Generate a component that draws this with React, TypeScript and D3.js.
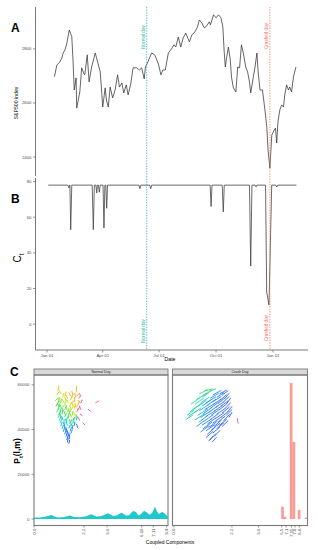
import React from "react";
import * as d3 from "d3";

// ---------- Panel A : S&P500 index (day offsets from 2018-01-01) ----------
const spDays = [12,16,20,24,26,29,32,36,40,42,44,47,48,53,56,59,61,65,68,72,78,80,86,90,94,96,99,102,106,110,114,117,121,124,128,131,135,139,145,149,153,157,159,163,169,174,180,184,187,191,196,201,205,208,212,216,220,224,230,234,239,243,246,250,254,258,262,264,269,273,277,281,284,286,288,290,293,296,298,301,305,308,311,314,317,321,324,327,329,333,336,339,341,344,348,352,355,357,360,363,367,369,371,373,376,379,382,384,387,390,392,395,398,402];
const spValues = [2697,2741,2749,2766,2784,2796,2821,2870,2846,2759,2648,2693,2581,2641,2730,2711,2704,2778,2678,2733,2785,2767,2715,2585,2656,2611,2585,2659,2619,2648,2704,2659,2674,2637,2667,2630,2667,2730,2730,2722,2730,2689,2733,2752,2785,2778,2744,2704,2722,2722,2785,2800,2815,2807,2844,2807,2841,2859,2826,2852,2863,2881,2907,2896,2878,2885,2900,2889,2926,2915,2926,2915,2881,2796,2733,2767,2807,2759,2696,2656,2641,2733,2730,2815,2785,2733,2715,2678,2637,2693,2733,2785,2715,2648,2648,2574,2511,2426,2359,2481,2500,2507,2452,2530,2574,2593,2585,2630,2667,2648,2659,2641,2696,2733];

// ---------- Panel B : C_t ----------
const ctDays = [2,33.5,35.5,36.5,37,38.3,40,73,74.8,76.5,79,80.3,81.5,83,84.5,86,90.5,92,93.5,95,96.4,97.8,148.5,150,151.5,166,167.5,169,263.5,265,266.5,283,284.7,286.3,327,329,331,336,337.5,339,353,354.8,358.5,362.9,369.5,371,372.5,403];
const ctValues = [78,78,76.5,78,78,53,78,78,53,78,78,73.6,78,78,74,78,78,54,78,78,65,78,78,76,78,78,76,78,78,66,78,78,63,78,78,32.6,78,78,77,78,78,18,10.7,78,78,77,78,78];

const dateTicks = [0, 90, 181, 273, 365];
const dateTickLabels = ["Jan 01", "Apr 01", "Jul 01", "Oct 01", "Jan 01"];
const spTicks = [2400, 2600, 2800];
const ctTicks = [0, 20, 40, 60, 80];
const normalDay = 161;
const crashDay = 360;

// ---------- Panel C ----------
const pTicks = [0, 20000, 40000, 60000];
const normalTickLabels = ["0-0", "2-2", "3-6", "6-10", "7-11", "9-9"];
const normalTickPos = [0, 37.3, 54.5, 80.4, 89, 99];
const crashTickLabels = ["0-0", "2-2", "3-6", "6-5", "7-1", "7-15", "7-8", "8-8"];
const crashTickPos = [1.1, 44, 63.7, 80.9, 84.1, 88.1, 90.7, 93.9];

// distribution area, normal day
const normalAreaX = [0,4.5,9,13.1,15.7,17.9,22.4,26.9,29.9,34.3,38.8,42.9,46.3,50,55.2,59,61.9,65.3,68.7,70.9,73.9,76.1,78,79.9,82.1,84.3,86.2,88.1,90.3,91.8,93.3,95.9,97.8,100];
const normalAreaY = [670,670,1100,1800,1000,670,900,1560,900,760,1200,2100,1100,1200,2550,1340,1650,2770,1560,1650,3580,3130,1560,2240,3670,2900,1880,2680,5500,3350,2240,3220,2240,1100];

// distribution bars, crash day
const crashBarX = [81.5, 83.3, 87.9, 89.9, 93.8, 98.9];
const crashBarY = [5500, 1000, 60900, 34500, 4000, 600];

// segments [x, P, dx, dP, colour value]
const normalSegs = [
  [17.8,57300,0.8,2300,0.72],[31.5,56800,0.3,2500,0.72],[46,52000,2.5,800,0.88],[40.5,49000,1.5,-700,1.0],
  [36.5,43000,1.5,-900,0.98],[32,41300,1.2,-800,0.96],
  [17,55500,1.5,1200,0.5],[20,56000,-1,1500,0.6],[23,55000,1,1800,0.7],[26,56500,1.2,-1300,0.72],[29,55500,-0.8,1600,0.78],[32,55000,1.5,1000,0.85],[34,56000,1,-1200,0.9],
  [18,54200,1,-1500,0.55],[21.5,54500,0.8,1600,0.62],[25,54000,-1.2,1400,0.68],[28,54300,1,1700,0.74],[31,54600,-0.6,1500,0.8],[33.5,54000,1.2,1300,0.88],
  [16,53000,1.8,900,0.45],[18.5,52500,0.6,1800,0.5],[21,53500,1.4,-1400,0.55],[24,52800,-1,1700,0.62],[27,53200,1.5,1300,0.7],[30,52500,0.5,1900,0.75],[33,53000,1.6,-1000,0.82],[35,52000,1,1200,0.95],
  [17.5,51700,1.2,-1400,0.45],[20,51900,0.5,1700,0.5],[22.8,51500,1.3,1400,0.55],[25.5,51800,-0.9,1600,0.6],[28,51400,1.2,1500,0.66],[30.5,51900,0.6,-1600,0.72],[33,51500,1.2,1300,0.8],
  [16.5,50500,1.2,1500,0.4],[19,51000,-0.8,1800,0.45],[21.5,50000,1.5,1200,0.5],[24,50800,0.4,-1900,0.55],[26.5,50200,1.2,1600,0.6],[29,50700,-1,1400,0.68],[31.5,50000,1.4,1100,0.75],[34,50500,0.8,-1500,0.97],
  [18,49200,1,1600,0.4],[20.5,49500,-1,1500,0.42],[23,49000,1.2,1700,0.47],[25.5,49400,0.6,-1600,0.52],[28,49000,1.3,1400,0.57],[30.5,49300,-0.7,1700,0.63],[33,48900,1,1400,0.9],
  [17,48000,1.5,1300,0.35],[19.5,47500,0.6,1800,0.4],[22,48300,-1.2,1500,0.45],[24.5,47800,1.4,1400,0.5],[27,48200,0.3,1900,0.55],[29.5,47600,1.3,-1400,0.6],[32,48000,1,1500,0.92],[34.5,47000,1.5,-800,0.98],
  [18.5,46700,1.2,1500,0.33],[21,47000,0.5,1800,0.37],[23.5,46500,-1,1500,0.4],[26,46900,1.1,1600,0.45],[28.5,46400,0.5,1700,0.5],[31,46800,1.2,-1300,0.55],
  [18,45500,1.4,1600,0.3],[20.5,45000,-0.8,1700,0.35],[23,45800,1.3,1300,0.38],[25.5,45200,0.5,1900,0.42],[28,45600,-1.1,1500,0.48],[30.5,45000,1.2,1400,0.52],[33,45400,1,-1300,0.94],
  [19,44200,1,1600,0.25],[21.5,44500,-0.8,1500,0.28],[24,44000,1.1,1700,0.32],[26.5,44400,0.5,-1600,0.36],[29,43900,1.2,1500,0.4],[31.5,44300,0.8,1400,0.15],
  [19.5,43000,1.2,1500,0.22],[22,42600,0.6,1800,0.25],[24.5,43300,-1,1400,0.28],[27,42800,1.3,1600,0.3],[29.5,43200,0.4,1800,0.35],[31.5,42500,1.1,-1200,0.12],
  [20,41700,1,1600,0.18],[22.5,41400,0.6,1800,0.2],[25,41900,-0.9,1500,0.22],[27.5,41500,1.1,1600,0.2],[30,41800,0.5,1500,0.1],
  [21,40500,1,1600,0.15],[23.5,40000,-0.7,1800,0.12],[26,40700,1.2,1400,0.18],[28.5,40200,0.5,1700,0.1],
  [22,39200,0.8,1700,0.1],[24.5,39000,-0.5,1800,0.08],[27,39400,0.9,1600,0.12],
  [23,38000,0.8,1700,0.08],[25.5,37500,-0.6,1900,0.05],[27.5,38300,1,1500,0.1],
  [24,37000,0.7,1700,0.05],[26.5,36700,-0.4,1800,0.04],
  [24.5,35500,0.9,1800,0.03],[26.5,36000,-0.5,1600,0.02],
  [25,34500,0.5,1600,0.02],[26,33800,0.6,1500,0],
];
const crashSegs = [
  [12,46000,6,2400,0.3],[15,49000,7,2800,0.28],[14,51500,6,2600,0.32],[18,53500,7,2500,0.3],[20,56000,6,1800,0.34],[24,57500,6,600,0.38],[16,47500,5,2200,0.26],[22,54500,5,2000,0.27],[10,44500,5,2000,0.25],[19,50500,6,2600,0.22],
  [13,48000,6,2500,0.28],[17,51500,6,2500,0.3],[21,52000,6,2400,0.28],[23,55500,6,2000,0.33],[27,57000,5,1200,0.35],[11,46500,5,2200,0.3],
  [30,55500,6,2000,0.1],[35,56000,5,1600,0.05],
  [28,54000,6,2200,0.1],[33,54500,5,2000,0.06],[37,55500,4,1800,0.03],
  [25,52000,7,2600,0.12],[30,52500,6,2300,0.08],[35,53000,5,2500,0.03],[39,54000,3,2300,0.02],
  [22,50500,6,2600,0.12],[26,51000,6,2500,0.08],[30,51200,6,2400,0.05],[34,51800,5,2400,0.03],[38,52500,4,2300,0.01],
  [20,48500,7,2700,0.15],[24,49000,7,2500,0.1],[28,49500,6,2600,0.06],[32,50000,6,2400,0.04],[36,50500,5,2300,0.02],[40,51500,3,2500,0],
  [19,46500,7,2700,0.14],[23,47200,6,2600,0.1],[27,47800,6,2500,0.06],[31,48300,6,2500,0.04],[35,49000,5,2400,0.02],[39,49500,4,2400,0],
  [17,44500,7,2600,0.18],[21,45500,7,2700,0.12],[25,46000,7,2500,0.08],[29,46500,6,2600,0.05],[33,47000,6,2400,0.03],[37,47500,5,2500,0.01],[41,48000,3,2300,0],
  [20,43500,6,2700,0.1],[24,44000,6,2600,0.07],[28,44500,6,2600,0.04],[32,45000,6,2500,0.02],[36,45500,5,2500,0.01],[40,46500,4,2400,0],
  [18,41500,6,2600,0.12],[22,42000,7,2800,0.08],[26,42500,6,2700,0.05],[30,43000,6,2600,0.03],[34,43500,5,2500,0.02],[38,44000,4,2600,0],[42,45500,2,2200,0],
  [23,40500,6,2700,0.06],[27,41000,6,2600,0.04],[31,41500,5,2600,0.02],[35,42000,5,2500,0],
  [21,39000,6,2700,0.08],[25,39500,6,2600,0.05],[29,40000,6,2700,0.03],[33,40500,5,2500,0.01],[37,41500,4,2400,0],
  [26,38000,5,2700,0.04],[30,38500,5,2600,0.02],
  [25,36500,5,2700,0.04],[28,35500,4,2600,0.02],[31,37000,4,2500,0],
  [27,35000,3,2000,0.02],[29.5,34500,3,2000,0],
  [48,45000,0.6,-2200,0.98],
];

const FONT = "Liberation Sans, Arial, sans-serif";
const NORMAL_COL = "#1BB3A8";
const CRASH_COL = "#F8695C";

export default function App() {
  const t0 = new Date(2018, 0, 1).getTime();
  const toDate = (d: number) => new Date(t0 + d * 864e5);
  const x = d3.scaleTime().domain([toDate(0), toDate(365)]).range([47, 273]);
  const yA = d3.scaleLinear().domain([2330, 2955]).range([176, 7]);
  const yB = d3.scaleLinear().domain([-14.5, 82]).range([350, 178]);

  const lineA = d3.line<number>().x((_, i) => x(toDate(spDays[i]))).y((v) => yA(v));
  const lineB = d3.line<number>().x((_, i) => x(toDate(ctDays[i]))).y((v) => yB(v));

  const axX = 35.5;
  const nx = x(toDate(normalDay));
  const cx = x(toDate(crashDay));

  // Panel C
  const pTop = 375, pBot = 525.5;
  const yC = d3.scaleLinear().domain([-2900, 64400]).range([pBot, pTop]);
  const xL = d3.scaleLinear().domain([0, 100]).range([34, 168]);
  const xR = d3.scaleLinear().domain([0, 100]).range([172.5, 307.5]);
  const segCol = d3.scaleLinear<string>()
    .domain([0, 0.2, 0.4, 0.6, 0.8, 1])
    .range(["#2C5BFF", "#16C6E8", "#3EE35A", "#D5E81E", "#FFA51E", "#E24BF0"]);
  const areaL = d3.area<number>().x((_, i) => xL(normalAreaX[i])).y0(yC(0)).y1((v) => yC(v));

  const tickText = { fontFamily: FONT, fontSize: 4.3, fill: "#4d4d4d" } as const;

  const panel = (x0: number, x1: number, title: string) => (
    <g>
      <rect x={x0} y={369} width={x1 - x0} height={6} fill="#D9D9D9" stroke="#7a7a7a" strokeWidth={0.9} />
      <text x={(x0 + x1) / 2} y={373.4} textAnchor="middle" fontFamily={FONT} fontSize={3.6} fill="#1a1a1a">{title}</text>
      <rect x={x0} y={pTop} width={x1 - x0} height={pBot - pTop} fill="none" stroke="#7a7a7a" strokeWidth={1.1} />
    </g>
  );

  return (
    <svg width={318} height={550} style={{ position: "absolute", left: 0, top: 0 }} xmlns="http://www.w3.org/2000/svg">
      <rect width={318} height={550} fill="#fff" />
      {/* Panel letters */}
      <text x={11} y={32} fontFamily={FONT} fontWeight="bold" fontSize={12}>A</text>
      <text x={11} y={203} fontFamily={FONT} fontWeight="bold" fontSize={12}>B</text>
      <text x={10} y={376} fontFamily={FONT} fontWeight="bold" fontSize={12}>C</text>

      {/* Panel A */}
      <line x1={axX} x2={axX} y1={7} y2={176} stroke="#555" strokeWidth={0.8} />
      {spTicks.map((t) => (
        <g key={t}>
          <line x1={axX - 2.5} x2={axX} y1={yA(t)} y2={yA(t)} stroke="#555" strokeWidth={0.6} />
          <text x={axX - 4} y={yA(t) + 1.5} textAnchor="end" {...tickText}>{t}</text>
        </g>
      ))}
      <text transform={`translate(17.5,${103}) rotate(-90)`} textAnchor="middle" fontFamily={FONT} fontSize={5.2}>S&amp;P500 index</text>
      <path d={lineA(spValues) || ""} fill="none" stroke="#333" strokeWidth={0.75} />

      {/* Panel B */}
      <line x1={axX} x2={axX} y1={178} y2={350} stroke="#555" strokeWidth={0.8} />
      <line x1={axX} x2={308} y1={350} y2={350} stroke="#555" strokeWidth={0.8} />
      {ctTicks.map((t) => (
        <g key={t}>
          <line x1={axX - 2.5} x2={axX} y1={yB(t)} y2={yB(t)} stroke="#555" strokeWidth={0.6} />
          <text x={axX - 4} y={yB(t) + 1.5} textAnchor="end" {...tickText}>{t}</text>
        </g>
      ))}
      {dateTicks.map((d, i) => (
        <g key={i}>
          <line x1={x(toDate(d))} x2={x(toDate(d))} y1={350} y2={352.5} stroke="#555" strokeWidth={0.6} />
          <text x={x(toDate(d))} y={356.5} textAnchor="middle" {...tickText}>{dateTickLabels[i]}</text>
        </g>
      ))}
      <text x={170} y={361} textAnchor="middle" fontFamily={FONT} fontSize={5.2}>Date</text>
      <text transform={`translate(21,${258}) rotate(-90)`} textAnchor="middle" fontFamily={FONT} fontSize={10}>
        C<tspan fontSize={6.5} dy={2.5}>t</tspan>
      </text>
      <path d={lineB(ctValues) || ""} fill="none" stroke="#444" strokeWidth={0.8} />

      {/* event lines */}
      <line x1={nx} x2={nx} y1={7} y2={350} stroke={NORMAL_COL} strokeWidth={0.8} strokeDasharray="1.3,1.3" />
      <line x1={cx} x2={cx} y1={7} y2={350} stroke={CRASH_COL} strokeWidth={0.8} strokeDasharray="1.3,1.3" />
      <text transform={`translate(${nx - 1.5},37) rotate(-90)`} textAnchor="middle" fontFamily={FONT} fontSize={4.6} fill={NORMAL_COL}>Normal day</text>
      <text transform={`translate(${nx - 1.5},331) rotate(-90)`} textAnchor="middle" fontFamily={FONT} fontSize={4.6} fill={NORMAL_COL}>Normal day</text>
      <text transform={`translate(${cx - 1.5},36) rotate(-90)`} textAnchor="middle" fontFamily={FONT} fontSize={4.6} fill={CRASH_COL}>Crashed day</text>
      <text transform={`translate(${cx - 1.5},328) rotate(-90)`} textAnchor="middle" fontFamily={FONT} fontSize={4.6} fill={CRASH_COL}>Crashed day</text>

      {/* Panel C */}
      {panel(34, 168, "Normal Day")}
      {panel(172.5, 307.5, "Crash Day")}
      {pTicks.map((t) => (
        <g key={t}>
          <line x1={31.5} x2={34} y1={yC(t)} y2={yC(t)} stroke="#555" strokeWidth={0.6} />
          <text x={29.5} y={yC(t) + 1.5} textAnchor="end" {...tickText}>{t}</text>
        </g>
      ))}
      <text transform={`translate(20,451) rotate(-90)`} textAnchor="middle" fontFamily={FONT} fontSize={8.5} fontWeight="bold">
        P<tspan fontSize={5.5} dy={2.5}>t</tspan><tspan dy={-2.5}>(l,m)</tspan>
      </text>

      <path d={areaL(normalAreaY) || ""} fill="#1FC9CB" />
      {normalSegs.map((s, i) => (
        <line key={i} x1={xL(s[0])} y1={yC(s[1])} x2={xL(s[0] + s[2])} y2={yC(s[1] + s[3])}
          stroke={segCol(s[4])} strokeWidth={1} strokeLinecap="round" />
      ))}
      {crashBarX.map((b, i) => (
        <rect key={i} x={xR(b - 1)} y={yC(crashBarY[i])} width={xR(2) - xR(0)} height={yC(0) - yC(crashBarY[i])}
          fill="#F8766D" fillOpacity={0.72} />
      ))}
      {crashSegs.map((s, i) => (
        <line key={i} x1={xR(s[0])} y1={yC(s[1])} x2={xR(s[0] + s[2])} y2={yC(s[1] + s[3])}
          stroke={segCol(s[4])} strokeWidth={0.9} strokeLinecap="round" />
      ))}

      {normalTickPos.map((p, i) => (
        <g key={i}>
          <line x1={xL(p)} x2={xL(p)} y1={pBot} y2={pBot + 2} stroke="#555" strokeWidth={0.6} />
          <text transform={`translate(${xL(p) + 1.5},${pBot + 3}) rotate(-90)`} textAnchor="end" {...tickText}>{normalTickLabels[i]}</text>
        </g>
      ))}
      {crashTickPos.map((p, i) => (
        <g key={i}>
          <line x1={xR(p)} x2={xR(p)} y1={pBot} y2={pBot + 2} stroke="#555" strokeWidth={0.6} />
          <text transform={`translate(${xR(p) + 1.5},${pBot + 3}) rotate(-90)`} textAnchor="end" {...tickText}>{crashTickLabels[i]}</text>
        </g>
      ))}
      <text x={170} y={543.5} textAnchor="middle" fontFamily={FONT} fontSize={5}>Coupled Components</text>
    </svg>
  );
}
